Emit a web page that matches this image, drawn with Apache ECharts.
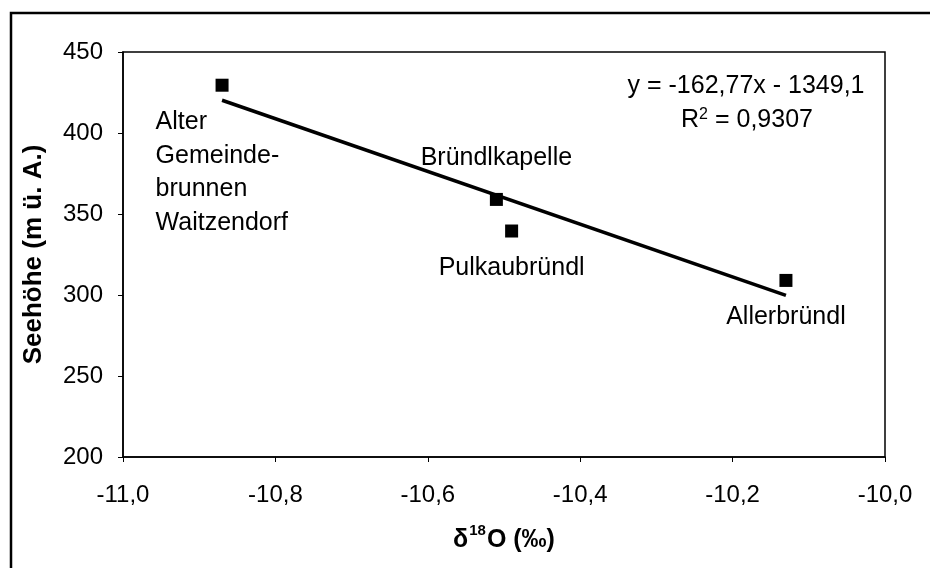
<!DOCTYPE html>
<html>
<head>
<meta charset="utf-8">
<script src="https://cdn.jsdelivr.net/npm/echarts@6/dist/echarts.min.js"></script>
<style>
html,body{margin:0;padding:0;background:#fff;}
#c{width:930px;height:568px;}
</style>
</head>
<body>
<div id="c"></div>
<script>
// Data
var pointNames = ['Alter\nGemeinde-\nbrunnen\nWaitzendorf', 'Bründlkapelle', 'Pulkaubründl', 'Allerbründl'];
var d18O = [-10.87, -10.51, -10.49, -10.13];
var elevation = [429.5, 359, 339.5, 309];
var trendX = [-10.87, -10.13];
var trendY = [420.2, 299.8];
var xTicks = { min: -11, max: -10, step: 0.2 };
var yTicks = { min: 200, max: 450, step: 50 };
var equationText = 'y = -162,77x - 1349,1';
var r2Value = '0,9307';

var FONT = '"Liberation Sans", Arial, sans-serif';

var labelCfg = [
  { position: [-60, 27], align: 'left', verticalAlign: 'top', lineHeight: 33.5 },
  { position: 'top', distance: 22 },
  { position: 'bottom', distance: 18 },
  { position: 'bottom', distance: 18 }
];

var scatterData = d18O.map(function (x, i) {
  return {
    name: pointNames[i],
    value: [x, elevation[i]],
    label: Object.assign({
      show: true,
      formatter: pointNames[i],
      color: '#000',
      opacity: 1,
      textBorderWidth: 0,
      fontSize: 25,
      fontFamily: FONT
    }, labelCfg[i])
  };
});

var trendData = trendX.map(function (x, i) { return [x, trendY[i]]; });

var chart = echarts.init(document.getElementById('c'), null, { renderer: 'canvas' });
chart.setOption({
  backgroundColor: '#fff',
  animation: false,
  grid: {
    left: 123, right: 45, top: 52, bottom: 111,
    show: true, borderColor: '#000', borderWidth: 1.5, backgroundColor: 'transparent'
  },
  xAxis: {
    type: 'value',
    min: xTicks.min, max: xTicks.max, interval: xTicks.step,
    axisLine: { show: true, onZero: false, lineStyle: { color: '#000', width: 1.5 } },
    axisTick: { show: true, inside: false, length: 5, lineStyle: { color: '#000' } },
    splitLine: { show: false },
    axisLabel: {
      color: '#000', fontSize: 24, fontFamily: FONT, margin: 26,
      formatter: function (v) { return v.toFixed(1).replace('.', ','); }
    },
    name: '{a|δ}{s|18}{a|O (‰)}',
    nameLocation: 'middle',
    nameGap: 66,
    nameTextStyle: {
      rich: {
        a: { fontSize: 25, lineHeight: 30, fontWeight: 'bold', fontFamily: FONT, color: '#000', verticalAlign: 'bottom' },
        s: { fontSize: 15, lineHeight: 15, fontWeight: 'bold', fontFamily: FONT, color: '#000', verticalAlign: 'top', padding: [0, 1, 0, 1] }
      }
    }
  },
  yAxis: {
    type: 'value',
    min: yTicks.min, max: yTicks.max, interval: yTicks.step,
    axisLine: { show: true, onZero: false, lineStyle: { color: '#000', width: 1.5 } },
    axisTick: { show: true, inside: false, length: 5, lineStyle: { color: '#000' } },
    splitLine: { show: false },
    axisLabel: { color: '#000', fontSize: 24, fontFamily: FONT, margin: 20 },
    name: 'Seehöhe (m ü. A.)',
    nameLocation: 'middle',
    nameRotate: 90,
    nameGap: 76,
    nameTextStyle: { fontSize: 26, fontWeight: 'bold', fontFamily: FONT, color: '#000' }
  },
  series: [
    {
      type: 'line',
      data: trendData,
      symbol: 'none',
      lineStyle: { color: '#000', width: 3.5 },
      silent: true,
      z: 2
    },
    {
      type: 'scatter',
      data: scatterData,
      symbol: 'rect',
      symbolSize: 13,
      itemStyle: { color: '#000', opacity: 1 },
      label: { color: '#000' },
      z: 3
    }
  ],
  graphic: [
    {
      type: 'rect',
      shape: { x: 11, y: 13, width: 1000, height: 1000 },
      style: { fill: 'none', stroke: '#000', lineWidth: 2.5 },
      silent: true
    },
    {
      type: 'text',
      x: 746, y: 86,
      style: {
        text: equationText,
        font: '25px ' + FONT,
        fill: '#000',
        textAlign: 'center',
        textVerticalAlign: 'middle'
      }
    },
    {
      type: 'text',
      x: 747, y: 120,
      style: {
        text: '{a|R}{s|2}{a| = ' + r2Value + '}',
        fill: '#000',
        textAlign: 'center',
        textVerticalAlign: 'middle',
        rich: {
          a: { fontSize: 25, fontFamily: FONT, color: '#000' },
          s: { fontSize: 16, fontFamily: FONT, color: '#000', verticalAlign: 'top', padding: [0, 0, 11, 0] }
        }
      }
    }
  ]
});
</script>
</body>
</html>
